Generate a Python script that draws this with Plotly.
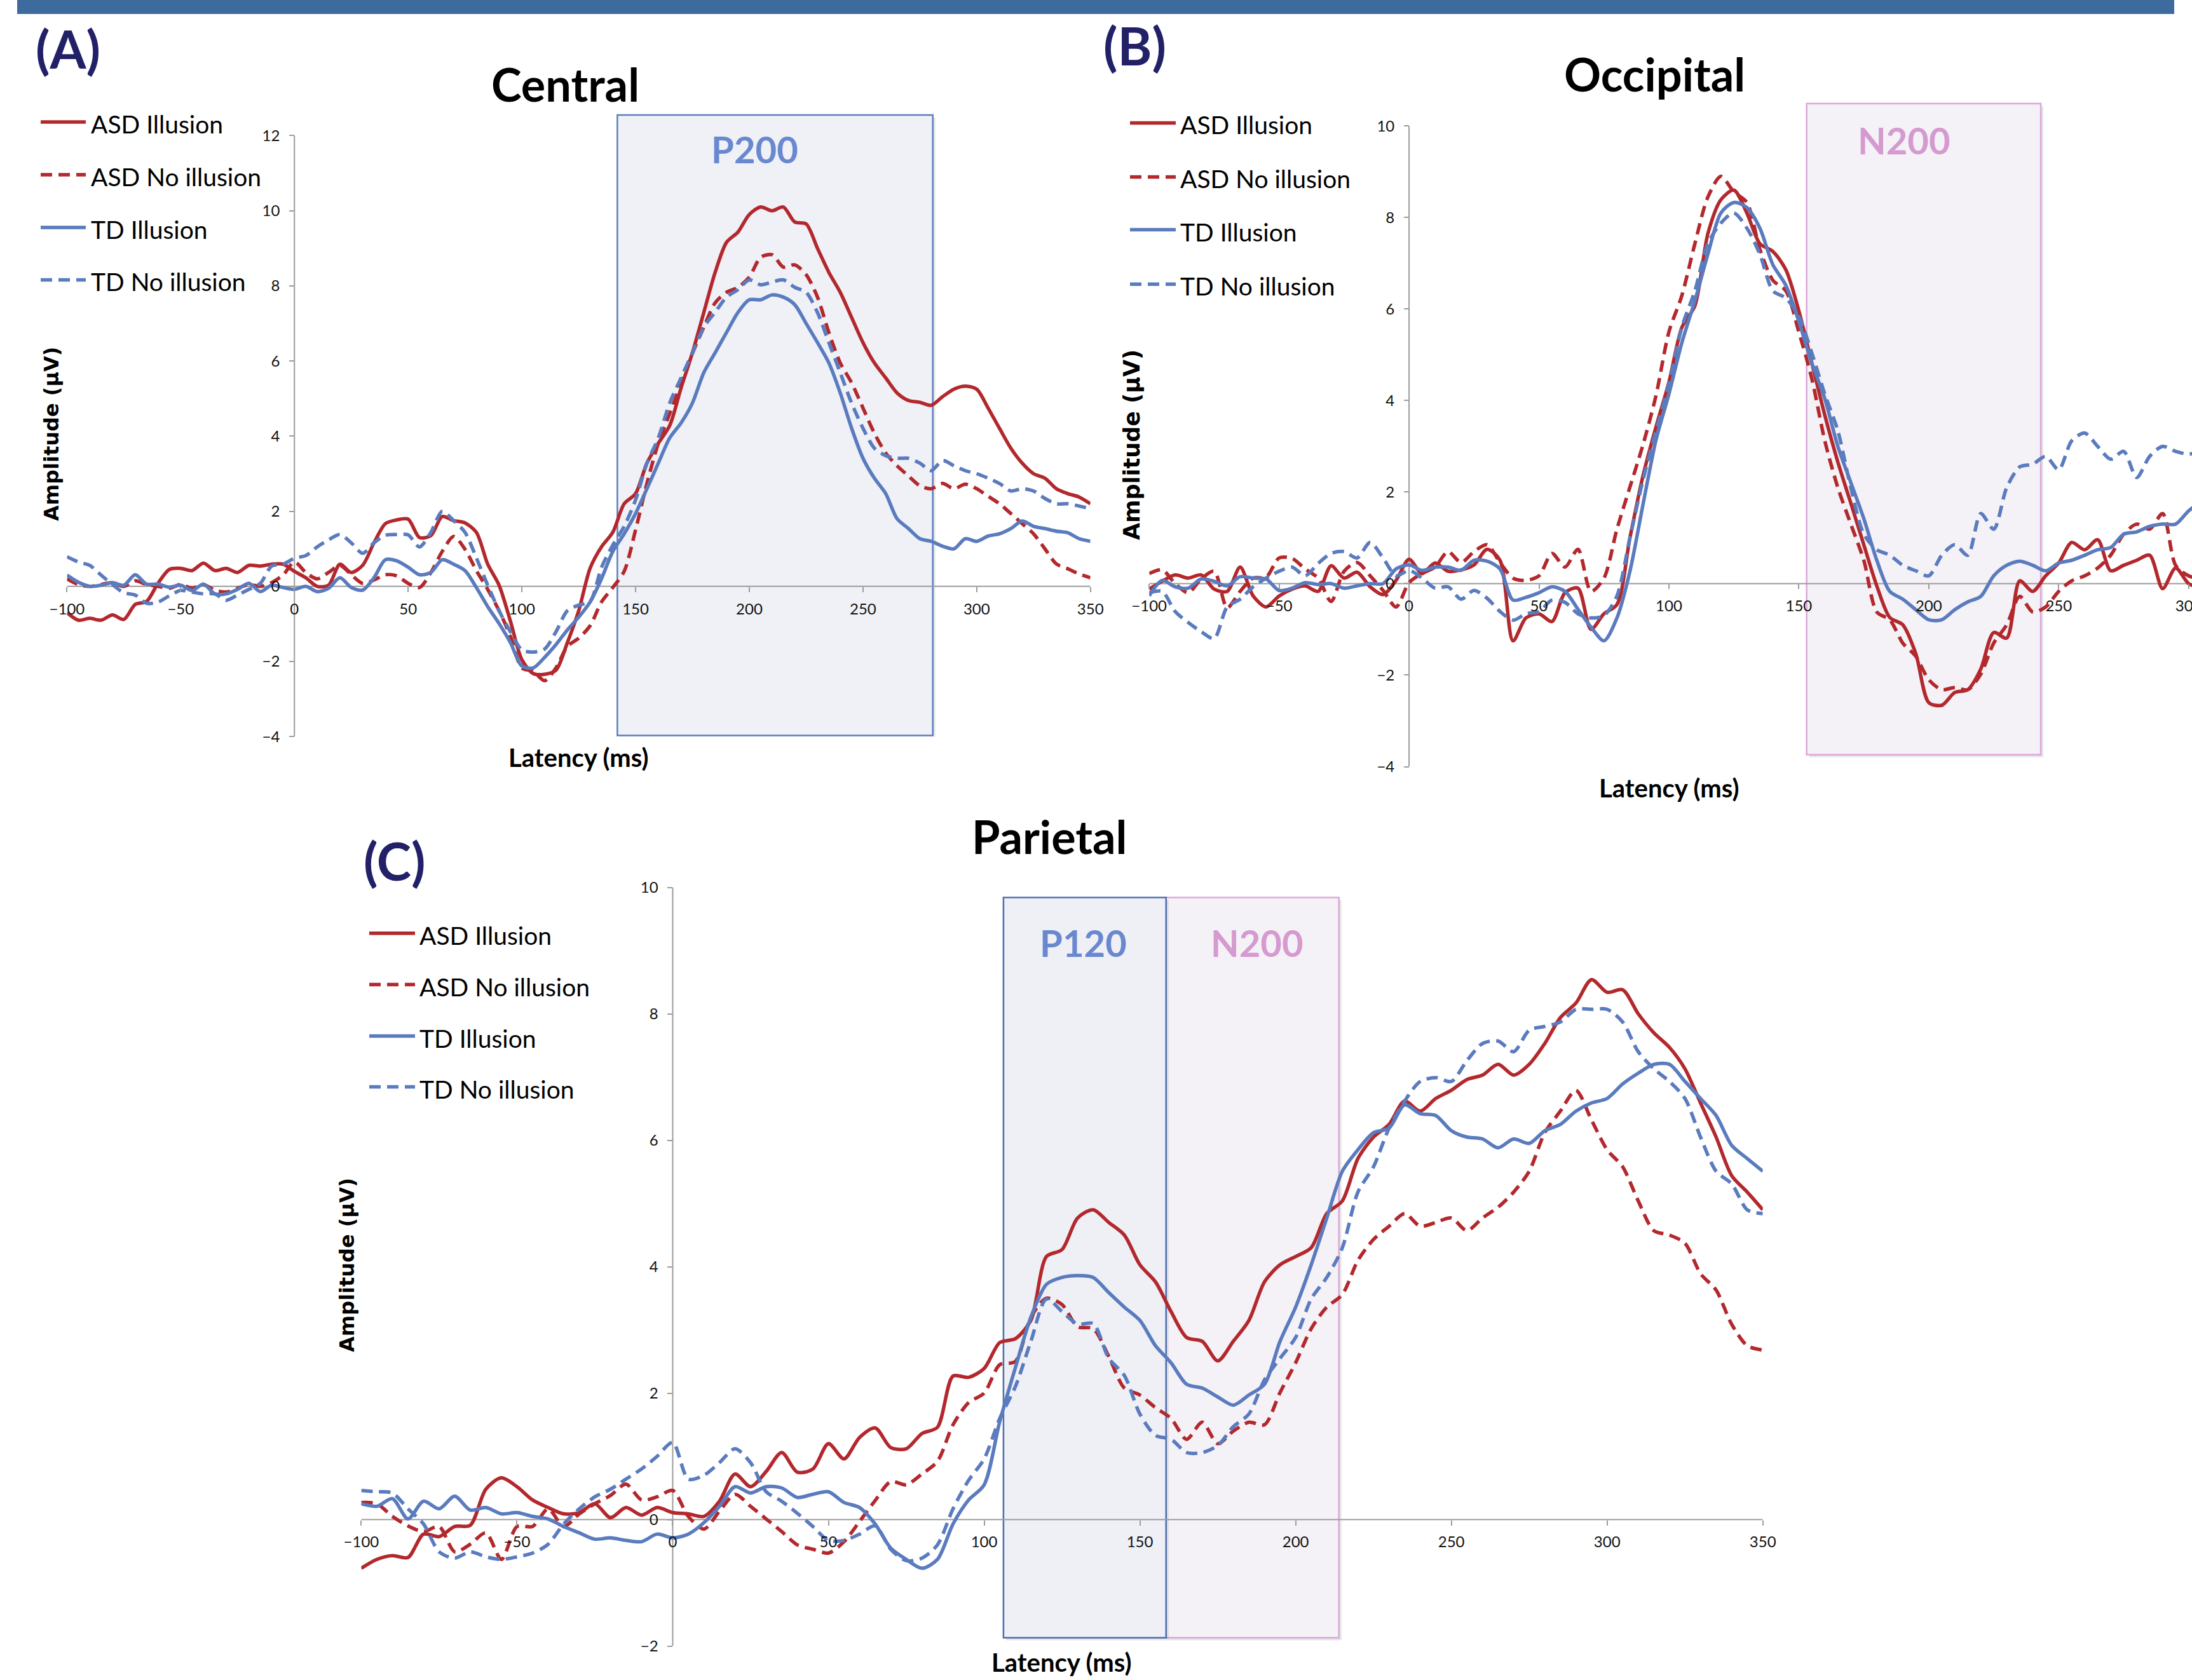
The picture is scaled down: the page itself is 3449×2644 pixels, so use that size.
import plotly.graph_objects as go

W, H = 3449, 2644

# ---------------- data ----------------
latency_A = list(range(-100, 355, 5))
latency_B = list(range(-100, 310, 5))
latency_C = list(range(-100, 355, 5))

series_names = ["ASD Illusion", "ASD No illusion", "TD Illusion", "TD No illusion"]

central_asd_illusion = [
    -0.70, -0.90, -0.85, -0.90, -0.76, -0.88, -0.48, -0.40, 0.08, 0.45,
    0.48, 0.42, 0.62, 0.42, 0.48, 0.37, 0.56, 0.54, 0.59, 0.59,
    0.40, 0.23, 0.00, 0.03, 0.59, 0.37, 0.56, 1.16, 1.67, 1.77,
    1.79, 1.30, 1.35, 1.86, 1.75, 1.69, 1.44, 0.59, 0.03, -0.93,
    -1.95, -2.32, -2.34, -2.23, -1.50, -0.65, 0.48, 1.05, 1.44, 2.20,
    2.47, 3.28, 3.81, 4.28, 5.28, 6.22, 7.29, 8.36, 9.16, 9.43,
    9.90, 10.10, 10.00, 10.10, 9.70, 9.65, 9.00, 8.36, 7.83, 7.16,
    6.49, 5.95, 5.55, 5.15, 4.95, 4.90, 4.82, 5.05, 5.25, 5.33,
    5.25, 4.75, 4.21, 3.68, 3.28, 3.00, 2.88, 2.60, 2.47, 2.38,
    2.20]
central_asd_noillusion = [
    0.20, 0.05, 0.00, 0.05, 0.10, 0.00, 0.15, 0.05, 0.00, -0.05,
    0.05, -0.05, 0.05, -0.10, -0.15, -0.05, 0.05, 0.00, 0.10, 0.30,
    0.65, 0.37, 0.20, 0.37, 0.56, 0.31, 0.08, 0.17, 0.31, 0.28,
    0.08, -0.03, 0.37, 0.93, 1.33, 0.99, 0.42, -0.08, -0.65, -1.33,
    -2.17, -2.26, -2.51, -2.17, -1.60, -1.38, -1.05, -0.42, -0.03, 0.40,
    1.50, 2.74, 3.81, 4.60, 5.40, 6.20, 6.90, 7.55, 7.83, 7.96,
    8.23, 8.76, 8.83, 8.50, 8.56, 8.30, 7.70, 6.76, 5.95, 5.42,
    4.75, 4.08, 3.55, 3.21, 2.94, 2.68, 2.60, 2.74, 2.60, 2.72,
    2.60, 2.40, 2.20, 1.94, 1.67, 1.40, 1.00, 0.60, 0.47, 0.33,
    0.23]
central_td_illusion = [
    0.30, 0.11, 0.00, 0.03, 0.10, 0.03, 0.31, 0.06, 0.06, -0.02,
    0.03, -0.11, 0.06, -0.20, -0.20, -0.08, 0.08, -0.14, 0.03, -0.03,
    -0.08, 0.00, -0.14, -0.05, 0.23, -0.03, -0.10, 0.23, 0.71, 0.68,
    0.51, 0.31, 0.37, 0.71, 0.59, 0.42, -0.03, -0.54, -0.99, -1.50,
    -2.12, -2.17, -1.89, -1.55, -1.16, -0.82, -0.42, 0.20, 0.93, 1.40,
    1.94, 2.60, 3.28, 3.95, 4.35, 4.88, 5.69, 6.22, 6.76, 7.29,
    7.63, 7.63, 7.76, 7.70, 7.50, 7.00, 6.49, 5.95, 5.15, 4.21,
    3.41, 2.88, 2.47, 1.80, 1.54, 1.27, 1.20, 1.07, 1.00, 1.27,
    1.20, 1.34, 1.40, 1.54, 1.74, 1.60, 1.54, 1.47, 1.43, 1.27,
    1.20]
central_td_noillusion = [
    0.79, 0.65, 0.56, 0.30, 0.05, -0.17, -0.23, -0.45, -0.42, -0.25,
    -0.11, -0.15, -0.20, -0.20, -0.37, -0.23, -0.08, 0.08, 0.54, 0.59,
    0.75, 0.82, 1.05, 1.24, 1.38, 1.16, 0.88, 1.16, 1.36, 1.38,
    1.37, 1.05, 1.44, 2.00, 1.75, 1.44, 0.76, 0.03, -0.65, -1.21,
    -1.69, -1.75, -1.67, -1.21, -0.65, -0.50, -0.40, 0.50, 1.10, 1.60,
    2.30, 3.28, 3.95, 4.88, 5.55, 6.22, 6.90, 7.30, 7.70, 7.90,
    8.16, 8.03, 8.10, 8.16, 7.96, 7.83, 7.29, 6.49, 5.69, 4.88,
    4.21, 3.68, 3.48, 3.41, 3.41, 3.28, 3.08, 3.35, 3.21, 3.08,
    3.00, 2.88, 2.74, 2.54, 2.60, 2.54, 2.34, 2.20, 2.20, 2.14,
    2.07]

occipital_asd_illusion = [
    -0.12, 0.05, 0.19, 0.12, 0.19, -0.12, -0.17, 0.36, -0.27, -0.51,
    -0.27, -0.12, -0.05, -0.17, 0.39, 0.12, 0.25, -0.07, -0.24, 0.07,
    0.53, 0.22, 0.45, 0.27, 0.30, 0.41, 0.75, 0.51, -1.25, -0.75,
    -0.66, -0.83, -0.20, -0.10, -1.00, -0.66, -0.46, 1.00, 2.35, 3.42,
    4.40, 5.60, 6.07, 7.65, 8.39, 8.60, 8.10, 7.43, 7.26, 6.86,
    5.96, 4.82, 3.68, 2.66, 1.76, 0.85, -0.05, -0.74, -0.90, -1.53,
    -2.60, -2.66, -2.38, -2.32, -1.87, -1.07, -1.19, 0.06, -0.17, 0.17,
    0.45, 0.90, 0.74, 0.96, 0.28, 0.40, 0.51, 0.62, -0.11, 0.34,
    0.00, -0.10]
occipital_asd_noillusion = [
    0.22, 0.30, 0.00, -0.20, 0.10, 0.27, -0.53, -0.17, 0.12, 0.14,
    0.56, 0.55, 0.32, 0.12, -0.39, 0.27, 0.46, 0.17, -0.15, -0.51,
    0.02, 0.22, 0.36, 0.70, 0.46, 0.70, 0.85, 0.46, 0.12, 0.07,
    0.17, 0.66, 0.36, 0.75, -0.17, 0.12, 1.19, 2.11, 3.03, 4.10,
    5.50, 6.30, 7.43, 8.45, 8.90, 8.56, 8.33, 7.31, 6.63, 6.40,
    5.50, 4.48, 3.12, 2.10, 1.30, 0.51, -0.62, -0.79, -1.30, -1.59,
    -2.10, -2.32, -2.27, -2.32, -1.98, -1.30, -0.90, -0.28, -0.62, -0.51,
    -0.17, 0.06, 0.17, 0.34, 0.62, 1.08, 1.30, 1.19, 1.53, 0.40,
    0.17, 0.10]
occipital_td_illusion = [
    -0.27, 0.07, -0.07, -0.10, 0.10, 0.05, -0.05, 0.15, 0.12, 0.10,
    -0.15, -0.10, 0.02, -0.02, 0.00, -0.10, -0.05, 0.00, 0.00, 0.32,
    0.41, 0.29, 0.36, 0.36, 0.29, 0.51, 0.49, 0.32, -0.36, -0.30,
    -0.20, -0.07, -0.17, -0.56, -0.95, -1.25, -0.75, 0.27, 1.72, 3.13,
    4.14, 5.27, 6.18, 7.20, 8.10, 8.33, 8.22, 7.77, 6.97, 6.52,
    5.73, 4.82, 4.04, 3.00, 2.21, 1.42, 0.51, -0.17, -0.34, -0.57,
    -0.79, -0.79, -0.57, -0.40, -0.28, 0.17, 0.40, 0.49, 0.40, 0.28,
    0.45, 0.51, 0.62, 0.74, 0.79, 1.08, 1.13, 1.25, 1.30, 1.30,
    1.59, 1.80]
occipital_td_noillusion = [
    -0.20, -0.17, -0.61, -0.85, -1.05, -1.20, -0.51, -0.34, -0.07, 0.12,
    0.27, 0.36, 0.17, 0.44, 0.66, 0.70, 0.56, 0.90, 0.56, 0.17,
    0.29, 0.12, -0.10, -0.07, -0.34, -0.15, -0.32, -0.61, -0.80, -0.66,
    -0.61, -0.36, -0.41, -0.66, -0.75, -0.70, -0.27, 1.00, 2.26, 3.33,
    4.36, 5.61, 6.40, 7.43, 7.88, 8.10, 7.77, 7.20, 6.40, 6.24,
    5.84, 5.04, 4.14, 3.34, 2.10, 1.08, 0.74, 0.62, 0.40, 0.28,
    0.17, 0.62, 0.85, 0.62, 1.53, 1.19, 2.10, 2.55, 2.61, 2.78,
    2.49, 3.12, 3.29, 3.00, 2.72, 2.89, 2.32, 2.78, 3.00, 2.89,
    2.83, 2.90]

parietal_asd_illusion = [
    -0.77, -0.63, -0.57, -0.60, -0.23, -0.27, -0.11, -0.09, 0.48, 0.66,
    0.52, 0.31, 0.19, 0.09, 0.11, 0.25, 0.03, 0.19, 0.07, 0.19,
    0.11, 0.09, 0.05, 0.29, 0.72, 0.52, 0.76, 1.06, 0.75, 0.80,
    1.20, 0.96, 1.30, 1.45, 1.14, 1.12, 1.36, 1.46, 2.27, 2.25,
    2.39, 2.80, 2.86, 3.15, 4.16, 4.27, 4.77, 4.90, 4.70, 4.50,
    4.03, 3.76, 3.29, 2.88, 2.82, 2.51, 2.82, 3.15, 3.76, 4.03,
    4.16, 4.30, 4.84, 5.04, 5.71, 6.05, 6.25, 6.62, 6.46, 6.66,
    6.79, 6.96, 7.03, 7.20, 7.03, 7.20, 7.53, 7.94, 8.17, 8.54,
    8.34, 8.38, 8.00, 7.70, 7.47, 7.13, 6.59, 6.05, 5.44, 5.18,
    4.90]
parietal_asd_noillusion = [
    0.27, 0.25, 0.05, -0.10, -0.19, -0.11, -0.51, -0.39, -0.21, -0.63,
    -0.11, -0.11, 0.17, -0.11, 0.09, 0.25, 0.38, 0.56, 0.31, 0.36,
    0.46, 0.05, -0.15, 0.13, 0.40, 0.21, 0.01, -0.19, -0.40, -0.47,
    -0.53, -0.35, -0.03, 0.30, 0.60, 0.55, 0.72, 0.92, 1.50, 1.85,
    2.00, 2.45, 2.50, 3.20, 3.50, 3.40, 3.05, 3.02, 2.58, 2.08,
    1.97, 1.77, 1.60, 1.27, 1.54, 1.20, 1.40, 1.54, 1.50, 2.01,
    2.48, 3.02, 3.36, 3.56, 4.10, 4.43, 4.64, 4.84, 4.64, 4.70,
    4.77, 4.57, 4.77, 4.94, 5.18, 5.51, 6.12, 6.46, 6.79, 6.32,
    5.85, 5.58, 5.04, 4.57, 4.50, 4.37, 3.89, 3.63, 3.09, 2.75,
    2.68]
parietal_td_illusion = [
    0.25, 0.21, 0.33, 0.01, 0.29, 0.17, 0.37, 0.15, 0.19, 0.09,
    0.11, 0.05, 0.01, -0.11, -0.21, -0.31, -0.29, -0.33, -0.35, -0.23,
    -0.29, -0.23, -0.05, 0.21, 0.52, 0.42, 0.52, 0.50, 0.35, 0.40,
    0.44, 0.27, 0.19, -0.07, -0.45, -0.63, -0.77, -0.63, -0.07, 0.31,
    0.55, 1.55, 2.40, 3.20, 3.72, 3.83, 3.86, 3.83, 3.59, 3.36,
    3.15, 2.75, 2.48, 2.14, 2.08, 1.94, 1.81, 1.97, 2.14, 2.82,
    3.36, 4.03, 4.77, 5.51, 5.85, 6.12, 6.19, 6.56, 6.42, 6.39,
    6.15, 6.05, 6.02, 5.88, 6.02, 5.95, 6.15, 6.25, 6.46, 6.59,
    6.66, 6.89, 7.06, 7.20, 7.20, 6.93, 6.66, 6.39, 5.92, 5.71,
    5.51]
parietal_td_noillusion = [
    0.46, 0.44, 0.42, 0.17, -0.07, -0.51, -0.61, -0.51, -0.59, -0.63,
    -0.59, -0.53, -0.39, -0.07, 0.17, 0.36, 0.48, 0.64, 0.80, 1.00,
    1.22, 0.64, 0.70, 0.90, 1.12, 0.90, 0.44, 0.29, 0.10, -0.11,
    -0.33, -0.33, -0.23, -0.10, -0.47, -0.65, -0.61, -0.40, 0.17, 0.62,
    0.96, 1.60, 2.10, 2.82, 3.49, 3.29, 3.09, 3.10, 2.55, 2.28,
    1.67, 1.33, 1.27, 1.06, 1.06, 1.17, 1.47, 1.67, 2.21, 2.55,
    2.88, 3.49, 3.83, 4.30, 5.18, 5.58, 6.19, 6.62, 6.93, 6.99,
    6.93, 7.26, 7.53, 7.57, 7.40, 7.74, 7.80, 7.87, 8.07, 8.07,
    8.07, 7.87, 7.40, 7.13, 6.93, 6.66, 6.05, 5.51, 5.31, 4.90,
    4.84]

# tick labels
ticks_x_A = [-100, -50, 0, 50, 100, 150, 200, 250, 300, 350]
ticks_x_B = [-100, -50, 0, 50, 100, 150, 200, 250, 300]
ticks_x_C = [-100, -50, 0, 50, 100, 150, 200, 250, 300, 350]
ticks_y_A = [-4, -2, 0, 2, 4, 6, 8, 10, 12]
ticks_y_B = [-4, -2, 0, 2, 4, 6, 8, 10]
ticks_y_C = [-2, 0, 2, 4, 6, 8, 10]

# component windows (latency ms from/to, amplitude from/to)
window_A_P200 = [142, 280.7, -3.97, 12.55]
window_B_N200 = [153, 243.1, -3.74, 10.49]
window_C_P120 = [106.2, 158.4, -1.87, 9.84]
window_C_N200 = [158.4, 213.9, -1.87, 9.84]

# ---------------- style ----------------
RED = "#B3282D"
BLUE = "#5A7BBE"
DASH = "18px,10px"
styles = [(RED, "solid"), (RED, DASH), (BLUE, "solid"), (BLUE, DASH)]
HUMAN = "Lato, 'Open Sans', sans-serif"
WIDE = "DejaVu Sans, Verdana, sans-serif"
AXIS_GRAY = "#9C9C9C"
LW = 5.5


def px(x):
    return x / W


def py(y):
    return 1 - y / H


fig = go.Figure()

panels = [
    dict(key="", xr=[-100, 350], xpx=[105.4, 1715.7], yr=[-4, 12.6], ypx=[1159.3, 178.0],
         lat=latency_A, ys=[central_asd_illusion, central_asd_noillusion,
                            central_td_illusion, central_td_noillusion],
         xt=ticks_x_A, yt=ticks_y_A, yline=[-4, 12]),
    dict(key="2", xr=[-100, 301.3], xpx=[1808.2, 3449.0], yr=[-4, 10.55], ypx=[1206.5, 158.8],
         lat=latency_B, ys=[occipital_asd_illusion, occipital_asd_noillusion,
                            occipital_td_illusion, occipital_td_noillusion],
         xt=ticks_x_B, yt=ticks_y_B, yline=[-4, 10]),
    dict(key="3", xr=[-100, 350], xpx=[568.4, 2773.7], yr=[-2, 10], ypx=[2590.5, 1396.5],
         lat=latency_C, ys=[parietal_asd_illusion, parietal_asd_noillusion,
                            parietal_td_illusion, parietal_td_noillusion],
         xt=ticks_x_C, yt=ticks_y_C, yline=[-2, 10]),
]

shapes = []
layout_axes = {}
for p in panels:
    k = p["key"]
    xd = [px(p["xpx"][0]), min(1.0, px(p["xpx"][1]))]
    yd = [py(p["ypx"][0]), py(p["ypx"][1])]
    # paper position of the value-0 crossing
    x0_paper = xd[0] + (0 - p["xr"][0]) / (p["xr"][1] - p["xr"][0]) * (xd[1] - xd[0])
    y0_paper = yd[0] + (0 - p["yr"][0]) / (p["yr"][1] - p["yr"][0]) * (yd[1] - yd[0])
    p["ms_per_px"] = (p["xr"][1] - p["xr"][0]) / (p["xpx"][1] - p["xpx"][0])
    p["uv_per_px"] = (p["yr"][1] - p["yr"][0]) / (p["ypx"][0] - p["ypx"][1])
    layout_axes["xaxis" + k] = dict(
        domain=xd, range=p["xr"], anchor="free", position=y0_paper, automargin=False,
        showline=False, showgrid=False, zeroline=False,
        tickmode="array", tickvals=p["xt"], ticks="outside", ticklen=8,
        tickwidth=1.5, tickcolor=AXIS_GRAY, ticklabelstandoff=6,
        ticklabeloverflow="allow",
        tickfont=dict(family=HUMAN, size=24, color="#111111"),
    )
    layout_axes["yaxis" + k] = dict(
        domain=yd, range=p["yr"], anchor="free", position=x0_paper, automargin=False,
        showline=False, showgrid=False, zeroline=False,
        tickmode="array", tickvals=p["yt"], ticks="outside", ticklen=8,
        tickwidth=1.5, tickcolor=AXIS_GRAY, ticklabelstandoff=10,
        tickfont=dict(family=HUMAN, size=24, color="#111111"),
    )
    for name, yv, (col, dash) in zip(series_names, p["ys"], styles):
        fig.add_trace(go.Scatter(
            x=p["lat"], y=yv, mode="lines", name=name, showlegend=False,
            line=dict(color=col, width=LW, dash=dash, shape="spline", smoothing=0.8),
            xaxis="x" + k, yaxis="y" + k,
        ))


def window(win, p, fill, border):
    k = p["key"]
    dx = 4 * p["ms_per_px"]
    dy = 4 * p["uv_per_px"]
    # soft drop shadow, then the window itself
    shapes.append(dict(type="rect", xref="x" + k, yref="y" + k, x0=win[0] + dx, x1=win[1] + dx,
                       y0=win[2] - dy, y1=win[3] - dy, fillcolor="rgba(0,0,0,0.10)",
                       line=dict(width=0), layer="below"))
    shapes.append(dict(type="rect", xref="x" + k, yref="y" + k, x0=win[0], x1=win[1],
                       y0=win[2], y1=win[3], fillcolor=fill, line=dict(color=border, width=2.5),
                       layer="below"))


window(window_A_P200, panels[0], "#EFF1F7", "#5B7DC0")
window(window_B_N200, panels[1], "#F4F2F7", "#DBA8D8")
window(window_C_N200, panels[2], "#F4F2F7", "#DBA8D8")
window(window_C_P120, panels[2], "#EEF0F6", "#4E6FAE")

# axis lines crossing at zero
for p in panels:
    k = p["key"]
    shapes.append(dict(type="line", xref="x" + k, yref="y" + k, x0=0, x1=0,
                       y0=p["yline"][0], y1=p["yline"][1],
                       line=dict(color=AXIS_GRAY, width=2), layer="below"))
    shapes.append(dict(type="line", xref="x" + k, yref="y" + k, x0=p["xr"][0], x1=p["xr"][1],
                       y0=0, y1=0, line=dict(color=AXIS_GRAY, width=2), layer="below"))

# top banner
shapes.append(dict(type="rect", xref="paper", yref="paper", x0=px(27), x1=px(3421),
                   y0=py(22), y1=py(0), fillcolor="#3D6B9E", line=dict(width=0)))

annotations = []


def text(t, x, y, size, family=HUMAN, color="#000000", bold=True, angle=0, xanchor="center"):
    annotations.append(dict(
        text=t, x=px(x), y=py(y), xref="paper", yref="paper", showarrow=False,
        xanchor=xanchor, yanchor="middle", textangle=angle,
        font=dict(family=family, size=size, color=color, weight="bold" if bold else "normal"),
    ))


# panel titles
text("Central", 890, 132, 72)
text("Occipital", 2603, 116, 72)
text("Parietal", 1651, 1316, 72)
# panel letters
NAVY = "#222168"
text("(A)", 107, 76, 82, color=NAVY)
text("(B)", 1786, 71, 82, color=NAVY)
text("(C)", 621, 1354, 82, color=NAVY)
# axis titles
text("Amplitude (µV)", 81, 683, 32, family=WIDE, angle=-90)
text("Amplitude (µV)", 1781, 700, 35, family=WIDE, angle=-90)
text("Amplitude (µV)", 546, 1991, 32, family=WIDE, angle=-90)
text("Latency (ms)", 910, 1192, 40)
text("Latency (ms)", 2626, 1240, 40)
text("Latency (ms)", 1670, 2616, 40)
# window labels
text("P200", 1187, 235, 58, color="#6A88CF")
text("N200", 2996, 220, 58, color="#D59ACF")
text("P120", 1704, 1483, 58, color="#6A88CF")
text("N200", 1978, 1483, 58, color="#D59ACF")

# legends (one per panel)
legend_rows = [
    dict(x0=64, x1=135, tx=141, rows=[192, 275, 358, 440.5]),
    dict(x0=1778, x1=1850, tx=1855, rows=[193.5, 278.4, 361.6, 447.3]),
    dict(x0=581, x1=653, tx=658, rows=[1468.7, 1549.6, 1630.5, 1710.5]),
]
for lg in legend_rows:
    for name, row, (col, dash) in zip(series_names, lg["rows"], styles):
        shapes.append(dict(type="line", xref="paper", yref="paper", x0=px(lg["x0"]), x1=px(lg["x1"]),
                           y0=py(row), y1=py(row), line=dict(color=col, width=LW, dash=dash)))
        text(name, lg["tx"], row + 3, 39, bold=False, xanchor="left")

fig.update_layout(
    width=W, height=H, autosize=False,
    margin=dict(l=0, r=0, t=0, b=0, pad=0, autoexpand=False),
    paper_bgcolor="white", plot_bgcolor="rgba(0,0,0,0)",
    showlegend=False, shapes=shapes, annotations=annotations,
    **layout_axes,
)

fig.write_html(
    "out.html",
    config={"displayModeBar": False, "responsive": False},
    post_script="document.body.style.margin='0px'; document.body.style.overflow='hidden';",
)
